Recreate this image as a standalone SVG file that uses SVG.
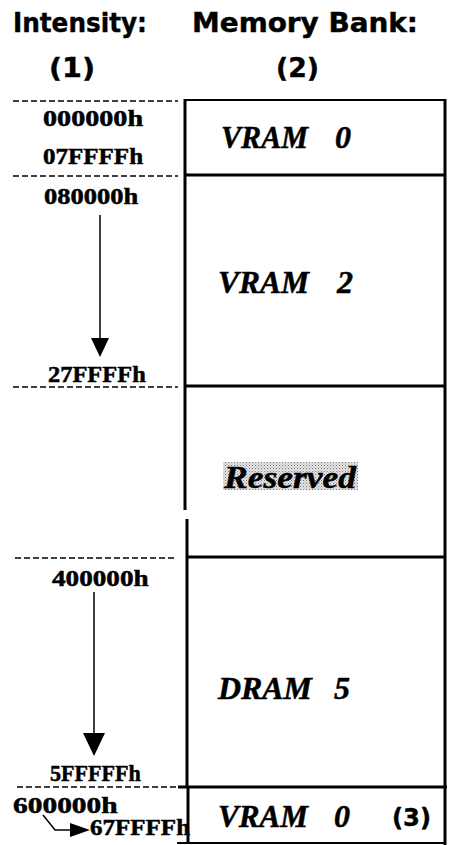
<svg xmlns="http://www.w3.org/2000/svg" width="452" height="845" viewBox="0 0 452 845">
<defs>
<style>
.hdr{font-family:"DejaVu Sans","Liberation Sans",sans-serif;font-weight:bold;font-size:26px;fill:#000;stroke:#000;stroke-width:0.4}
.addr{font-family:"Liberation Serif","Times New Roman",serif;font-weight:bold;font-size:23px;fill:#000;stroke:#000;stroke-width:0.5}
.bank{font-family:"Liberation Serif","Times New Roman",serif;font-weight:bold;font-style:italic;font-size:32px;fill:#000;stroke:#000;stroke-width:0.5}
.dash{stroke:#000;stroke-width:1.5;stroke-dasharray:6 3;fill:none}
.bx{stroke:#000;stroke-width:3;fill:none}
.ln{stroke:#000;stroke-width:1.5;fill:none}
</style>
<pattern id="stip" width="3" height="3" patternUnits="userSpaceOnUse">
<rect width="3" height="3" fill="#e6e6e6"/>
<rect x="0" y="0" width="1" height="1" fill="#777"/>
<rect x="1.5" y="1.5" width="1" height="1" fill="#999"/>
</pattern>
</defs>
<rect width="452" height="845" fill="#fff"/>

<g id="headers">
<text class="hdr" x="13" y="32" textLength="134" lengthAdjust="spacingAndGlyphs">Intensity:</text>
<text class="hdr" x="192" y="32" textLength="226" lengthAdjust="spacingAndGlyphs">Memory Bank:</text>
<text class="hdr" x="49" y="77" textLength="46" lengthAdjust="spacingAndGlyphs">(1)</text>
<text class="hdr" x="276" y="77" textLength="43" lengthAdjust="spacingAndGlyphs">(2)</text>
</g>

<g id="guides">
<line class="dash" x1="13" y1="101" x2="178" y2="101"/>
<line class="dash" x1="13" y1="176" x2="178" y2="176"/>
<line class="dash" x1="13" y1="387" x2="178" y2="387"/>
<line class="dash" x1="15" y1="558" x2="177" y2="558"/>
<line class="dash" x1="17" y1="787" x2="178" y2="787"/>
</g>

<g id="box">
<line class="bx" x1="185" y1="100" x2="446" y2="100" style="stroke-width:2"/>
<line class="bx" x1="445" y1="99" x2="445" y2="845"/>
<line class="bx" x1="185" y1="99" x2="185" y2="510"/>
<line class="bx" x1="187" y1="519" x2="187" y2="787"/>
<line class="bx" x1="188" y1="787" x2="188" y2="843"/>
<line class="bx" x1="185" y1="175" x2="446" y2="175"/>
<line class="bx" x1="185" y1="386" x2="446" y2="386"/>
<line class="bx" x1="187" y1="557" x2="446" y2="557"/>
<line class="bx" x1="178" y1="787" x2="447" y2="787"/>
<line class="bx" x1="177" y1="843" x2="446" y2="843" style="stroke-width:2"/>
</g>

<g id="bank-vram0">
<text class="addr" transform="translate(43,126) scale(1.15,1)" textLength="87" lengthAdjust="spacingAndGlyphs">000000h</text>
<text class="addr" transform="translate(43,164) scale(1.15,1)" textLength="87" lengthAdjust="spacingAndGlyphs">07FFFFh</text>
<text class="bank" x="221" y="148" textLength="87" lengthAdjust="spacingAndGlyphs">VRAM</text>
<text class="bank" x="335" y="148">0</text>
</g>

<g id="bank-vram2">
<text class="addr" transform="translate(44,204) scale(1.15,1)" textLength="82" lengthAdjust="spacingAndGlyphs">080000h</text>
<text class="addr" transform="translate(48,382) scale(1.15,1)" textLength="85" lengthAdjust="spacingAndGlyphs">27FFFFh</text>
<text class="bank" x="218" y="293" textLength="91" lengthAdjust="spacingAndGlyphs">VRAM</text>
<text class="bank" x="337" y="293">2</text>
</g>

<g id="bank-reserved">
<rect x="223" y="462" width="135" height="28" fill="url(#stip)"/>
<text class="bank" x="224" y="488" textLength="132" lengthAdjust="spacingAndGlyphs">Reserved</text>
</g>

<g id="bank-dram5">
<text class="addr" transform="translate(52,586) scale(1.15,1)" textLength="84" lengthAdjust="spacingAndGlyphs">400000h</text>
<text class="addr" transform="translate(50,781) scale(1.15,1)" textLength="79" lengthAdjust="spacingAndGlyphs">5FFFFFh</text>
<text class="bank" x="218" y="699" textLength="94" lengthAdjust="spacingAndGlyphs">DRAM</text>
<text class="bank" x="334" y="699">5</text>
</g>

<g id="bank-vram0-b">
<text class="addr" transform="translate(13,813) scale(1.15,1)" textLength="91" lengthAdjust="spacingAndGlyphs">600000h</text>
<text class="addr" transform="translate(90,835) scale(1.15,1)" textLength="87" lengthAdjust="spacingAndGlyphs">67FFFFh</text>
<text class="bank" x="218" y="827" textLength="90" lengthAdjust="spacingAndGlyphs">VRAM</text>
<text class="bank" x="334" y="827">0</text>
<text class="hdr" x="392" y="826" textLength="39" lengthAdjust="spacingAndGlyphs" style="font-size:24px">(3)</text>
</g>

<g id="connectors">
<line class="ln" x1="100" y1="215" x2="100" y2="340"/>
<polygon points="91,338 109,338 100,357" fill="#000"/>
<line class="ln" x1="94" y1="592" x2="94" y2="735"/>
<polygon points="83,733 105,733 94,756" fill="#000"/>
<polyline class="ln" points="43,815 55,830 72,830"/>
<polygon points="70,823 90,830 70,837" fill="#000"/>
</g>
</svg>
